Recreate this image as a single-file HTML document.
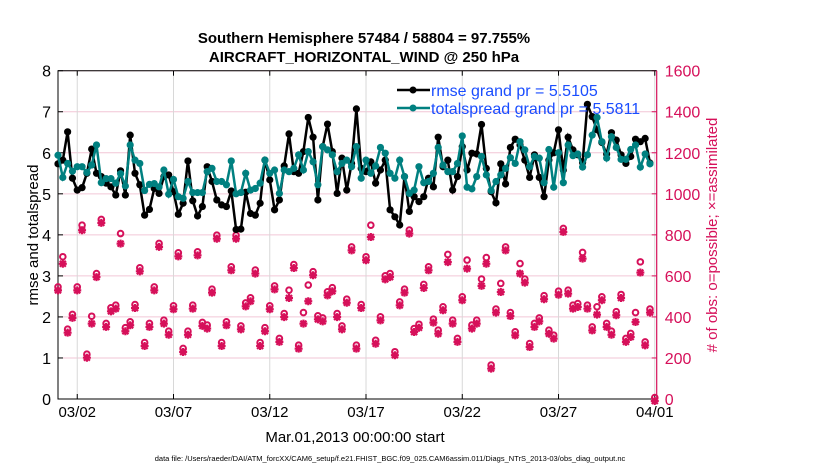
<!DOCTYPE html>
<html><head><meta charset="utf-8"><style>
body{margin:0;background:#fff;}
svg text{font-family:"Liberation Sans",Arial,sans-serif;}
</style></head><body>
<svg id="chart" width="830" height="470" xmlns="http://www.w3.org/2000/svg">
<text x="364" y="43" text-anchor="middle" font-size="15" font-weight="bold">Southern Hemisphere 57484 / 58804 = 97.755%</text>
<text x="364" y="62" text-anchor="middle" font-size="15" font-weight="bold">AIRCRAFT_HORIZONTAL_WIND @ 250 hPa</text>
<g id="grid"></g>
<g id="axes"></g>
<g id="marks"></g>
<text transform="translate(38,235) rotate(-90)" text-anchor="middle" font-size="15">rmse and totalspread</text>
<text transform="translate(717,235) rotate(-90)" text-anchor="middle" font-size="15" fill="#d6105a"># of obs: o=possible; ×=assimilated</text>
<text x="355" y="442" text-anchor="middle" font-size="15">Mar.01,2013 00:00:00 start</text>
<text x="390" y="461" text-anchor="middle" font-size="7.5">data file: /Users/raeder/DAI/ATM_forcXX/CAM6_setup/f.e21.FHIST_BGC.f09_025.CAM6assim.011/Diags_NTrS_2013-03/obs_diag_output.nc</text>
<g id="legend">
<line x1="397" y1="90" x2="430" y2="90" stroke="#000" stroke-width="2.5"/>
<circle cx="413" cy="90" r="3.5" fill="#000"/>
<text x="431" y="96" font-size="16" fill="#1a4dff">rmse grand pr = 5.5105</text>
<line x1="397" y1="108" x2="430" y2="108" stroke="#008080" stroke-width="2.5"/>
<circle cx="413" cy="108" r="3.5" fill="#008080"/>
<text x="431" y="114" font-size="16" fill="#1a4dff">totalspread grand pr = 5.5811</text>
</g>
</svg>
<script>
const rmse=[5.73,5.82,6.51,5.38,5.09,5.15,5.50,6.09,5.50,5.42,5.26,5.17,4.97,5.56,4.97,6.43,5.50,5.22,4.48,4.62,5.13,5.01,5.42,5.46,5.05,4.50,4.77,5.80,4.83,4.46,4.69,5.66,5.30,4.85,4.73,4.69,5.07,4.13,4.14,5.04,4.52,4.48,4.77,
5.82,5.34,4.61,4.85,5.68,6.46,5.54,5.50,6.03,6.86,6.38,4.85,6.15,6.70,6.03,5.01,5.87,5.09,5.74,7.07,5.62,5.54,5.78,5.26,5.58,5.82,4.61,4.44,4.24,5.42,4.57,4.93,4.81,4.93,5.38,5.17,6.38,5.66,5.82,5.09,5.42,
6.15,5.58,5.99,5.97,6.69,5.62,5.05,4.78,5.73,5.24,6.13,6.33,6.19,5.82,5.40,5.95,5.40,4.93,5.82,6.00,6.56,5.58,6.38,6.07,5.95,5.76,7.18,6.88,6.56,6.25,5.97,6.49,6.31,5.95,5.74,5.91,6.33,6.27,6.35,5.75];
const spread=[5.94,5.40,5.74,5.55,5.66,5.66,5.52,5.70,6.19,5.27,5.37,5.37,5.26,5.49,5.19,6.19,5.82,5.74,5.08,5.23,5.25,5.17,5.58,4.99,5.35,4.93,4.89,5.30,5.03,5.03,5.03,5.54,5.62,5.30,5.30,5.22,5.80,5.00,5.03,5.50,5.09,5.13,5.26,
5.82,5.50,5.58,5.01,5.58,5.54,5.62,5.95,5.58,6.03,5.78,5.22,6.15,6.07,5.95,5.54,5.74,5.82,5.66,6.15,5.38,5.82,5.50,5.68,6.13,5.99,5.50,5.38,5.82,5.42,5.01,5.09,5.66,5.27,5.30,5.50,6.13,5.70,5.54,5.54,5.74,
6.41,5.16,5.12,5.42,5.91,5.46,5.08,5.30,5.46,5.62,5.88,5.74,6.27,6.07,5.66,5.91,5.87,5.27,6.08,5.16,6.00,5.27,6.19,5.93,5.97,5.65,5.95,6.43,6.86,6.27,5.87,6.39,6.13,5.84,5.84,6.08,6.19,5.65,5.97,5.73];
const assimilated=[539,669,333,405,539,832,211,377,604,868,361,437,450,767,340,369,453,632,268,361,539,751,377,323,447,705,239,323,450,710,366,353,528,791,268,369,637,791,349,461,486,621,268,
340,447,544,288,409,502,648,255,377,486,613,398,388,515,535,409,349,479,734,255,453,686,799,279,393,593,604,223,466,528,816,336,357,551,637,382,328,442,677,377,288,
491,645,353,377,561,669,158,431,531,734,414,320,621,577,263,361,388,496,328,304,518,824,523,450,458,694,450,344,421,491,361,323,418,502,288,312,385,626,271,431,0];
const possible=[539,686,333,405,539,840,211,396,604,868,361,437,450,799,340,369,453,632,268,361,539,751,377,323,447,705,239,323,450,710,366,353,528,791,268,369,637,791,349,461,486,621,268,
340,447,544,288,409,523,648,255,414,548,613,398,388,515,535,409,349,479,734,255,453,686,840,279,393,593,604,223,466,528,816,336,357,551,637,382,328,442,697,377,288,
491,670,353,377,577,682,158,431,556,734,414,320,653,577,263,361,388,496,328,304,518,824,523,450,458,707,450,344,442,491,361,323,418,502,288,312,414,661,271,431,0];
const xTickLabels=["03/02","03/07","03/12","03/17","03/22","03/27","04/01"];
const xTickDays=[1,6,11,16,21,26,31];
const yTicks=[0,1,2,3,4,5,6,7,8];
const y2Ticks=[0,200,400,600,800,1000,1200,1400,1600];

const L=58,R=656.7,T=70.7,B=399;
const xDomain=[0,31.1];
const X=d=>L+(d-xDomain[0])/(xDomain[1]-xDomain[0])*(R-L);
const Y=v=>B-v/8*(B-T);
const Y2=c=>B-c/1600*(B-T);
const dayOf=i=>i*0.25;
const NS="http://www.w3.org/2000/svg";
function mk(parent,tag,attrs){const e=document.createElementNS(NS,tag);for(const k in attrs)e.setAttribute(k,attrs[k]);parent.appendChild(e);return e;}
const grid=document.getElementById('grid'),axes=document.getElementById('axes'),marks=document.getElementById('marks');
const MAG="#d6105a";

yTicks.forEach(v=>{
  const g=mk(grid,'line',{x1:L,x2:R,y1:Y(v),y2:Y(v),stroke:'#f2c6d6','stroke-width':1});
  
  
  const t=mk(axes,'text',{x:L-7,y:Y(v)+6,'text-anchor':'end','font-size':16});
  t.textContent=v;
  
  
  mk(axes,'line',{x1:L,x2:L+5,y1:Y(v),y2:Y(v),stroke:'#000'});
});
xTickDays.forEach((d,i)=>{
  const g=mk(grid,'line',{x1:X(d),x2:X(d),y1:T,y2:B,stroke:'#d8d8d8','stroke-width':1});
  
  
  mk(axes,'line',{x1:X(d),x2:X(d),y1:B,y2:B-5,stroke:'#000'});
  mk(axes,'line',{x1:X(d),x2:X(d),y1:T,y2:T+5,stroke:'#000'});
  const t=mk(axes,'text',{x:X(d),y:417,'text-anchor':'middle','font-size':15});
  t.textContent=xTickLabels[i];
  
  
});
y2Ticks.forEach(c=>{
  mk(axes,'line',{x1:R,x2:R-5,y1:Y2(c),y2:Y2(c),stroke:MAG});
  const t=mk(axes,'text',{x:R+8,y:Y2(c)+6,'font-size':16,fill:MAG});
  t.textContent=c;
  
  
});
const box=mk(axes,'path',{d:`M${R},${T}H${L}V${B}H${R}`,fill:'none',stroke:'#000','stroke-width':1});


const rs=mk(axes,'line',{x1:R,x2:R,y1:T,y2:B,stroke:MAG,'stroke-width':1.2});



// obs markers
assimilated.forEach((c,i)=>{
  const x=X(dayOf(i)),y=Y2(c)+2,r=4;
  const st=mk(marks,'path',{d:`M${x-r},${y}H${x+r}M${x},${y-r}V${y+r}M${x-3},${y-3}L${x+3},${y+3}M${x-3},${y+3}L${x+3},${y-3}`,stroke:MAG,'stroke-width':2.2,fill:'none'});
  
  
  const yp=Y2(possible[i]);
  const ci=mk(marks,'circle',{cx:x,cy:yp-1.5,r:2.8,fill:'none',stroke:MAG,'stroke-width':2});
  
  
});

function series(vals,color,name){
  const pts=vals.map((v,i)=>`${X(dayOf(i)).toFixed(1)},${Y(v).toFixed(1)}`).join(' ');
  const pl=mk(marks,'polyline',{points:pts,fill:'none',stroke:color,'stroke-width':2.5});
  
  
  vals.forEach((v,i)=>{
    const c=mk(marks,'circle',{cx:X(dayOf(i)),cy:Y(v),r:3.6,fill:color});
    
    
  });
}
series(rmse,'#000','rmse');
series(spread,'#008080','totalspread');
</script>
</body></html>
